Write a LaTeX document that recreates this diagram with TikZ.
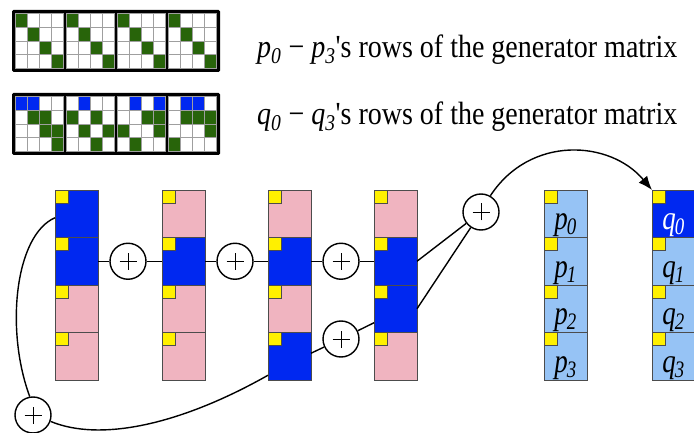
\documentclass[tikz,border=0pt]{standalone}
\usepackage{fontspec}
\setmainfont{Liberation Serif}
\newfontfamily\tnr{Liberation Serif}
\usetikzlibrary{arrows.meta}
\definecolor{cB}{RGB}{0,40,240}
\definecolor{cG}{RGB}{40,100,10}
\definecolor{cW}{RGB}{255,255,255}
\definecolor{pinkc}{RGB}{240,180,192}
\definecolor{lblue}{RGB}{150,195,245}
\definecolor{yel}{RGB}{255,240,0}
\newcommand\mygrid[3]{%
  \foreach \c [count=\k from 0] in {#3} {
    \pgfmathtruncatemacro\r{\k/4}
    \pgfmathtruncatemacro\cc{mod(\k,4)}
    \pgfmathsetmacro\xx{15.5+#1*51.1+\cc*11.9}
    \pgfmathsetmacro\yy{#2+\r*13.75}
    \filldraw[fill=\c, draw=gray!75, line width=0.8pt] (\xx,\yy) rectangle ++(11.9,13.75);
  }}
\newcommand\plab[2]{\raisebox{-16pt}{\scalebox{1}[1.25]{\tnr\fontsize{27}{27}\selectfont\textit{#1}\kern-1pt\textsubscript{\textit{#2}}}}}
\newcommand\biglab[1]{\scalebox{1}[1.15]{#1}}
\begin{document}
\begin{tikzpicture}[x=1pt,y=-1pt,
  cellbox/.style={draw=black!70, line width=0.8pt, minimum width=43pt, minimum height=47.5pt, inner sep=0pt, outer sep=0pt, text height=0pt, text depth=0pt},
  pk/.style={cellbox, fill=pinkc},
  bl/.style={cellbox, fill=cB},
  lb/.style={cellbox, fill=lblue},
  ysq/.style={draw=black!70, fill=yel, line width=0.6pt, minimum size=13pt, inner sep=0pt, outer sep=0pt, anchor=north west},
  xor/.style={circle, draw, line width=1.4pt, minimum size=36pt, inner sep=0pt, fill=white,
    path picture={\draw[line width=0.7pt]
      ([xshift=-8.5pt]path picture bounding box.center) -- ([xshift=8.5pt]path picture bounding box.center)
      ([yshift=-8.5pt]path picture bounding box.center) -- ([yshift=8.5pt]path picture bounding box.center);}},
  link/.style={line width=1.4pt},
  lbl/.style={anchor=base west, font=\tnr\fontsize{28}{28}\selectfont, inner sep=0pt}
  ]
\useasboundingbox (0,0) rectangle (694,433);

% generator matrix strips
\fill[rounded corners=1.5pt] (12,10) rectangle (220,72);
\mygrid{0}{13.5}{cG,cW,cW,cW, cW,cG,cW,cW, cW,cW,cG,cW, cW,cW,cW,cG}
\mygrid{1}{13.5}{cG,cW,cW,cW, cW,cG,cW,cW, cW,cW,cG,cW, cW,cW,cW,cG}
\mygrid{2}{13.5}{cG,cW,cW,cW, cW,cG,cW,cW, cW,cW,cG,cW, cW,cW,cW,cG}
\mygrid{3}{13.5}{cG,cW,cW,cW, cW,cG,cW,cW, cW,cW,cG,cW, cW,cW,cW,cG}
\fill[rounded corners=1.5pt] (12,93) rectangle (220,155);
\mygrid{0}{96.5}{cB,cB,cW,cW, cW,cG,cG,cW, cW,cW,cG,cG, cW,cW,cW,cG}
\mygrid{1}{96.5}{cW,cB,cW,cW, cG,cW,cG,cW, cW,cG,cW,cG, cW,cW,cG,cW}
\mygrid{2}{96.5}{cW,cB,cW,cB, cW,cW,cG,cG, cG,cW,cW,cG, cW,cG,cW,cW}
\mygrid{3}{96.5}{cW,cB,cB,cW, cW,cG,cG,cG, cW,cW,cW,cG, cG,cW,cW,cW}

\node[lbl] (t1) at (257,58) {\biglab{\textit{p}\textsubscript{\textit{0}} − \textit{p}\textsubscript{\textit{3}}'s rows of the generator matrix}};
\node[lbl] (t2) at (257,125) {\biglab{\textit{q}\textsubscript{\textit{0}} − \textit{q}\textsubscript{\textit{3}}'s rows of the generator matrix}};

% columns
\node[bl] (a0) at (76.5,213.75) {};
\node[bl] (a1) at (76.5,261.25) {};
\node[pk] (a2) at (76.5,308.75) {};
\node[pk] (a3) at (76.5,356.25) {};
\node[pk] (b0) at (183.5,213.75) {};
\node[bl] (b1) at (183.5,261.25) {};
\node[pk] (b2) at (183.5,308.75) {};
\node[pk] (b3) at (183.5,356.25) {};
\node[pk] (c0) at (289.5,213.75) {};
\node[bl] (c1) at (289.5,261.25) {};
\node[pk] (c2) at (289.5,308.75) {};
\node[bl] (c3) at (289.5,356.25) {};
\node[pk] (d0) at (395.5,213.75) {};
\node[bl] (d1) at (395.5,261.25) {};
\node[bl] (d2) at (395.5,308.75) {};
\node[pk] (d3) at (395.5,356.25) {};
\node[lb] (p0) at (565.5,213.75) {\plab{p}{0}};
\node[lb] (p1) at (565.5,261.25) {\plab{p}{1}};
\node[lb] (p2) at (565.5,308.75) {\plab{p}{2}};
\node[lb] (p3) at (565.5,356.25) {\plab{p}{3}};
\node[bl, text=white] (q0) at (673.5,213.75) {\plab{q}{0}};
\node[lb] (q1) at (673.5,261.25) {\plab{q}{1}};
\node[lb] (q2) at (673.5,308.75) {\plab{q}{2}};
\node[lb] (q3) at (673.5,356.25) {\plab{q}{3}};
\foreach \n in {a0,a1,a2,a3,b0,b1,b2,b3,c0,c1,c2,c3,d0,d1,d2,d3,p0,p1,p2,p3,q0,q1,q2,q3}
  \node[ysq] (y\n) at (\n.north west) {};

% xor nodes
\node[xor] (x1) at (128,261.25) {};
\node[xor] (x2) at (235,261.25) {};
\node[xor] (x3) at (341,261.25) {};
\node[xor] (x4) at (341,339) {};
\node[xor] (x5) at (481,212) {};
\node[xor] (x6) at (33,415) {};

% connectors
\draw[link] (a1) -- (x1) -- (b1);
\draw[link] (b1) -- (x2) -- (c1);
\draw[link] (c1) -- (x3) -- (d1);
\draw[link] ([yshift=3pt]c3.east) -- (x4) -- ([yshift=-14pt]d2.west);
\draw[link] (d1.east) -- (x5);
\draw[link] (d2.east) -- (x5);
\draw[link, -{Latex[length=14pt,width=11pt]}] (x5.60) .. controls (530,135) and (610,140) .. (q0.north west);
\draw[link] ([yshift=-4pt]a0.west) .. controls (15,235) and (5,330) .. (x6.100);
\draw[link] (x6.-20) .. controls (100,442) and (180,425) .. ([yshift=-19pt]c3.west);
\end{tikzpicture}
\end{document}
